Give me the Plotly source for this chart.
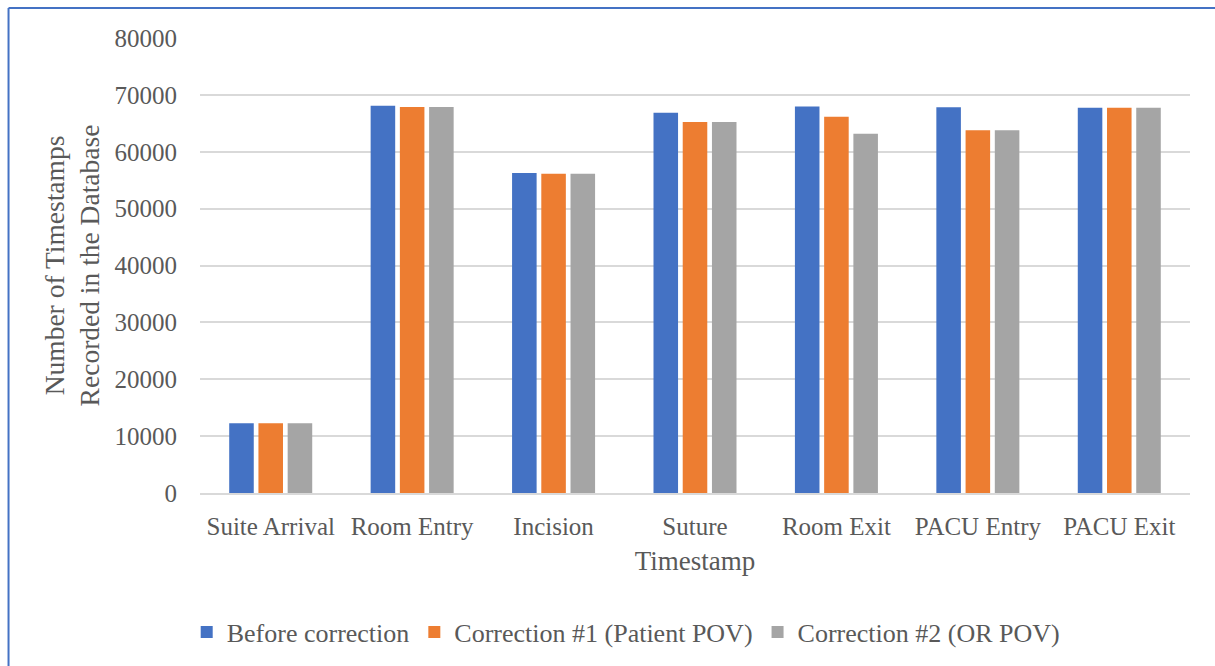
import plotly.graph_objects as go

# Timestamp categories and counts per correction stage
categories = ["Suite Arrival", "Room Entry", "Incision", "Suture",
              "Room Exit", "PACU Entry", "PACU Exit"]
before_correction = [12250, 68070, 56260, 66840, 67950, 67840, 67720]
correction_patient = [12250, 67890, 56140, 65210, 66140, 63800, 67720]
correction_or = [12250, 67890, 56140, 65210, 63160, 63800, 67720]

series_names = ["Before correction", "Correction #1 (Patient POV)", "Correction #2 (OR POV)"]
series_colors = ["#4472C4", "#ED7D31", "#A5A5A5"]
y_ticks = [0, 10000, 20000, 30000, 40000, 50000, 60000, 70000, 80000]

FONT = "Liberation Serif"
TEXT = "#595959"

fig = go.Figure()
for name, vals, color in zip(series_names,
                             [before_correction, correction_patient, correction_or],
                             series_colors):
    fig.add_trace(go.Bar(x=categories, y=vals, name=name,
                         marker=dict(color=color, line=dict(width=0))))

fig.update_layout(
    width=1215, height=666,
    margin=dict(l=200, r=25, t=38, b=172),
    paper_bgcolor="white", plot_bgcolor="white",
    barmode="group", bargap=0.38, bargroupgap=0.16,
    font=dict(family=FONT, color=TEXT, size=24),
    showlegend=True,
    legend=dict(orientation="h", x=0.43, xanchor="center", y=-0.303, yanchor="middle",
                font=dict(family=FONT, size=26, color=TEXT), traceorder="normal",
                itemwidth=30),
    xaxis=dict(
        title=dict(text="Timestamp", font=dict(family=FONT, size=27, color=TEXT), standoff=12),
        tickfont=dict(family=FONT, size=25, color=TEXT),
        showgrid=False, showline=True, linecolor="#D9D9D9", linewidth=2,
        ticks="", ticklabelstandoff=10,
    ),
    yaxis=dict(
        title=dict(text="Number of Timestamps<br>Recorded in the Database",
                   font=dict(family=FONT, size=27.5, color=TEXT), standoff=6),
        range=[0, 80000], tickvals=y_ticks,
        ticktext=[str(v) for v in y_ticks],
        tickfont=dict(family=FONT, size=25, color=TEXT),
        showgrid=True, gridcolor="#D9D9D9", gridwidth=1.5,
        zeroline=False, showline=False, ticks="", ticklabelstandoff=22,
    ),
    shapes=[
        dict(type="line", xref="paper", yref="paper",
             x0=-0.1934, x1=-0.1934, y0=1.0658, y1=-0.5,
             line=dict(color="#4472C4", width=2)),
        dict(type="line", xref="paper", yref="paper",
             x0=-0.1934, x1=1.1, y0=1.0658, y1=1.0658,
             line=dict(color="#4472C4", width=2)),
    ],
)

fig.write_html("out.html")
